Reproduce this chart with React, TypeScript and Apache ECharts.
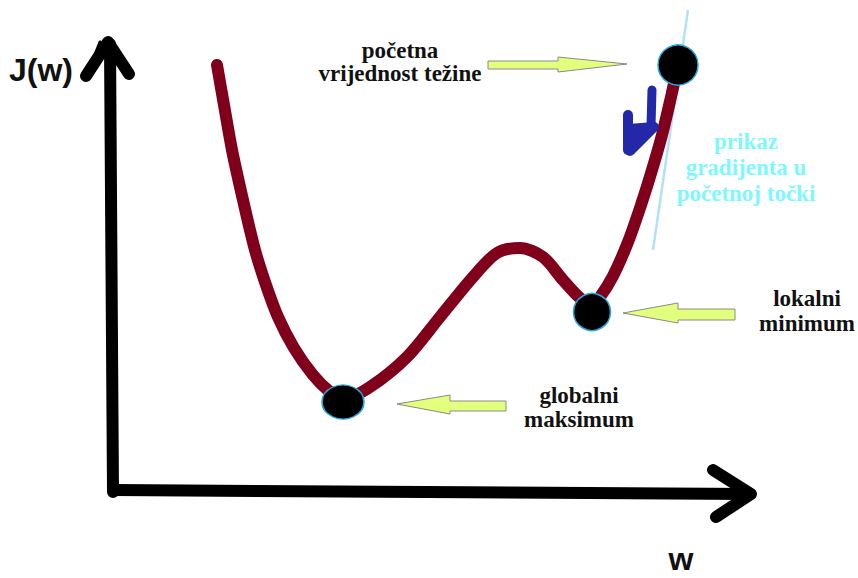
import React, { useEffect, useRef } from "react";
import * as echarts from "echarts";

// Cost curve J(w) (w, J in sketch units)
const curveW = [21.7, 22.4, 23.2, 24.3, 25.5, 26.6, 27.8, 29.4, 31.3, 33.0, 34.3, 37.0, 40.7, 44.0, 47.3, 49.7, 52.0, 54.3, 56.3, 58.0, 59.2, 60.0, 61.3, 62.8, 64.1, 65.2, 66.2, 67.1, 67.8];
const curveJ = [51.3, 47.3, 42.8, 37.8, 32.8, 29.3, 26.1, 23.0, 20.3, 18.6, 17.9, 19.1, 22.1, 26.1, 30.1, 32.5, 33.0, 32.1, 29.8, 28.0, 27.3, 28.1, 30.2, 33.6, 37.3, 40.8, 44.3, 48.1, 51.3];

// Marked points: start, local minimum, global minimum
const pointNames = ["početna vrijednost", "lokalni minimum", "globalni maksimum"];
const pointW = [67.8, 59.2, 34.3];
const pointJ = [51.3, 26.6, 17.6];

// Tangent (gradient) line at the starting point
const tangentW = [68.8, 65.3];
const tangentJ = [56.8, 32.8];

// Labels
const yAxisLabel = "J(w)";
const xAxisLabel = "w";
const startLabel = "početna\nvrijednost težine";
const localLabel = "lokalni\nminimum";
const globalLabel = "globalni\nmaksimum";
const gradientLabel = "prikaz\ngradijenta u\npočetnoj točki";

export default function App() {
  const ref = useRef<HTMLDivElement>(null);

  useEffect(() => {
    document.body.style.margin = "0";
    if (!ref.current) return;
    const chart = echarts.init(ref.current, null, { renderer: "svg" });

    const serif = '"Liberation Serif", "DejaVu Serif", serif';
    const sans = '"Liberation Sans", Arial, sans-serif';
    const black = "#000";
    const green = "#e2ff7e";
    const greenStroke = "#8a8a8a";
    const blue = "#2228a8";

    const option: any = {
      animation: false,
      backgroundColor: "#fff",
      grid: { left: 0, right: 0, top: 0, bottom: 0 },
      xAxis: { type: "value", min: 0, max: 85.8, show: false },
      yAxis: { type: "value", min: 0, max: 57.8, show: false },
      series: [
        {
          type: "line",
          data: tangentW.map((w, i) => [w, tangentJ[i]]),
          showSymbol: false,
          clip: false,
          lineStyle: { color: "#b3e1f7", width: 2.5 },
          z: 1,
        },
        {
          type: "line",
          data: curveW.map((w, i) => [w, curveJ[i]]),
          smooth: 0.3,
          showSymbol: false,
          clip: false,
          lineStyle: { color: "#80001c", width: 12, cap: "round", join: "round" },
          z: 2,
        },
        {
          type: "scatter",
          data: pointW.map((w, i) => ({
            name: pointNames[i],
            value: [w, pointJ[i]],
            symbolSize: i === 0 ? [40, 40] : i === 1 ? [37, 37] : [42, 34],
          })),
          itemStyle: { color: "#000", borderColor: "#29a9e1", borderWidth: 1.5, opacity: 1 },
          z: 5,
        },
      ],
      graphic: [
        // vertical axis
        {
          type: "polyline",
          shape: { points: [[113, 492], [110, 44]] },
          style: { stroke: black, lineWidth: 12, lineCap: "round", fill: null },
        },
        {
          type: "polyline",
          shape: { points: [[86, 76], [108, 42], [129, 74]] },
          style: { stroke: black, lineWidth: 12, lineCap: "round", lineJoin: "round", fill: null },
        },
        {
          type: "polyline",
          shape: { points: [[96, 52], [100, 42]] },
          style: { stroke: black, lineWidth: 3, lineCap: "round", fill: null },
        },
        // horizontal axis
        {
          type: "polyline",
          shape: { points: [[113, 490], [750, 494]] },
          style: { stroke: black, lineWidth: 12, lineCap: "round", fill: null },
        },
        {
          type: "polyline",
          shape: { points: [[713, 470], [751, 494], [716, 517]] },
          style: { stroke: black, lineWidth: 12, lineCap: "round", lineJoin: "round", fill: null },
        },
        // green arrows
        {
          type: "polygon",
          shape: { points: [[488, 61], [558, 61], [558, 57], [627, 64], [558, 72], [558, 69], [488, 69]] },
          style: { fill: green, stroke: greenStroke, lineWidth: 1 },
        },
        {
          type: "polygon",
          shape: { points: [[735, 309], [678, 309], [678, 303], [623, 313], [678, 323], [678, 320], [735, 320]] },
          style: { fill: green, stroke: greenStroke, lineWidth: 1 },
        },
        {
          type: "polygon",
          shape: { points: [[506, 401], [450, 401], [450, 395], [397, 404], [450, 414], [450, 411], [506, 411]] },
          style: { fill: green, stroke: greenStroke, lineWidth: 1 },
        },
        // blue hand-drawn gradient arrow
        {
          type: "polyline",
          shape: { points: [[652, 90], [651, 126]] },
          style: { stroke: blue, lineWidth: 9, lineCap: "round", fill: null },
          z: 10,
        },
        {
          type: "polyline",
          shape: { points: [[628, 115], [628, 150]] },
          style: { stroke: blue, lineWidth: 10, lineCap: "round", fill: null },
          z: 10,
        },
        {
          type: "polygon",
          shape: { points: [[629, 129], [654, 127], [630, 151]] },
          style: { fill: blue, stroke: blue, lineWidth: 10, lineJoin: "round" },
          z: 10,
        },
        // texts
        {
          type: "text",
          x: 41,
          y: 70,
          style: { text: yAxisLabel, font: `bold 32px ${sans}`, fill: "#111", align: "center", verticalAlign: "middle" },
        },
        {
          type: "text",
          x: 681,
          y: 559,
          style: { text: xAxisLabel, font: `bold 32px ${sans}`, fill: "#111", align: "center", verticalAlign: "middle" },
        },
        {
          type: "text",
          x: 400,
          y: 62,
          style: { text: startLabel, font: `bold 23px ${serif}`, lineHeight: 23, fill: "#111", align: "center", verticalAlign: "middle" },
        },
        {
          type: "text",
          x: 807,
          y: 311,
          style: { text: localLabel, font: `bold 23px ${serif}`, lineHeight: 25, fill: "#111", align: "center", verticalAlign: "middle" },
        },
        {
          type: "text",
          x: 579,
          y: 407,
          style: { text: globalLabel, font: `bold 23px ${serif}`, lineHeight: 24, fill: "#111", align: "center", verticalAlign: "middle" },
        },
        {
          type: "text",
          x: 746,
          y: 167,
          style: { text: gradientLabel, font: `bold 23px ${serif}`, lineHeight: 26, fill: "#7ff7ff", align: "center", verticalAlign: "middle" },
        },
      ],
    };

    chart.setOption(option);
    return () => chart.dispose();
  }, []);

  return <div ref={ref} style={{ width: 858, height: 578 }} />;
}
